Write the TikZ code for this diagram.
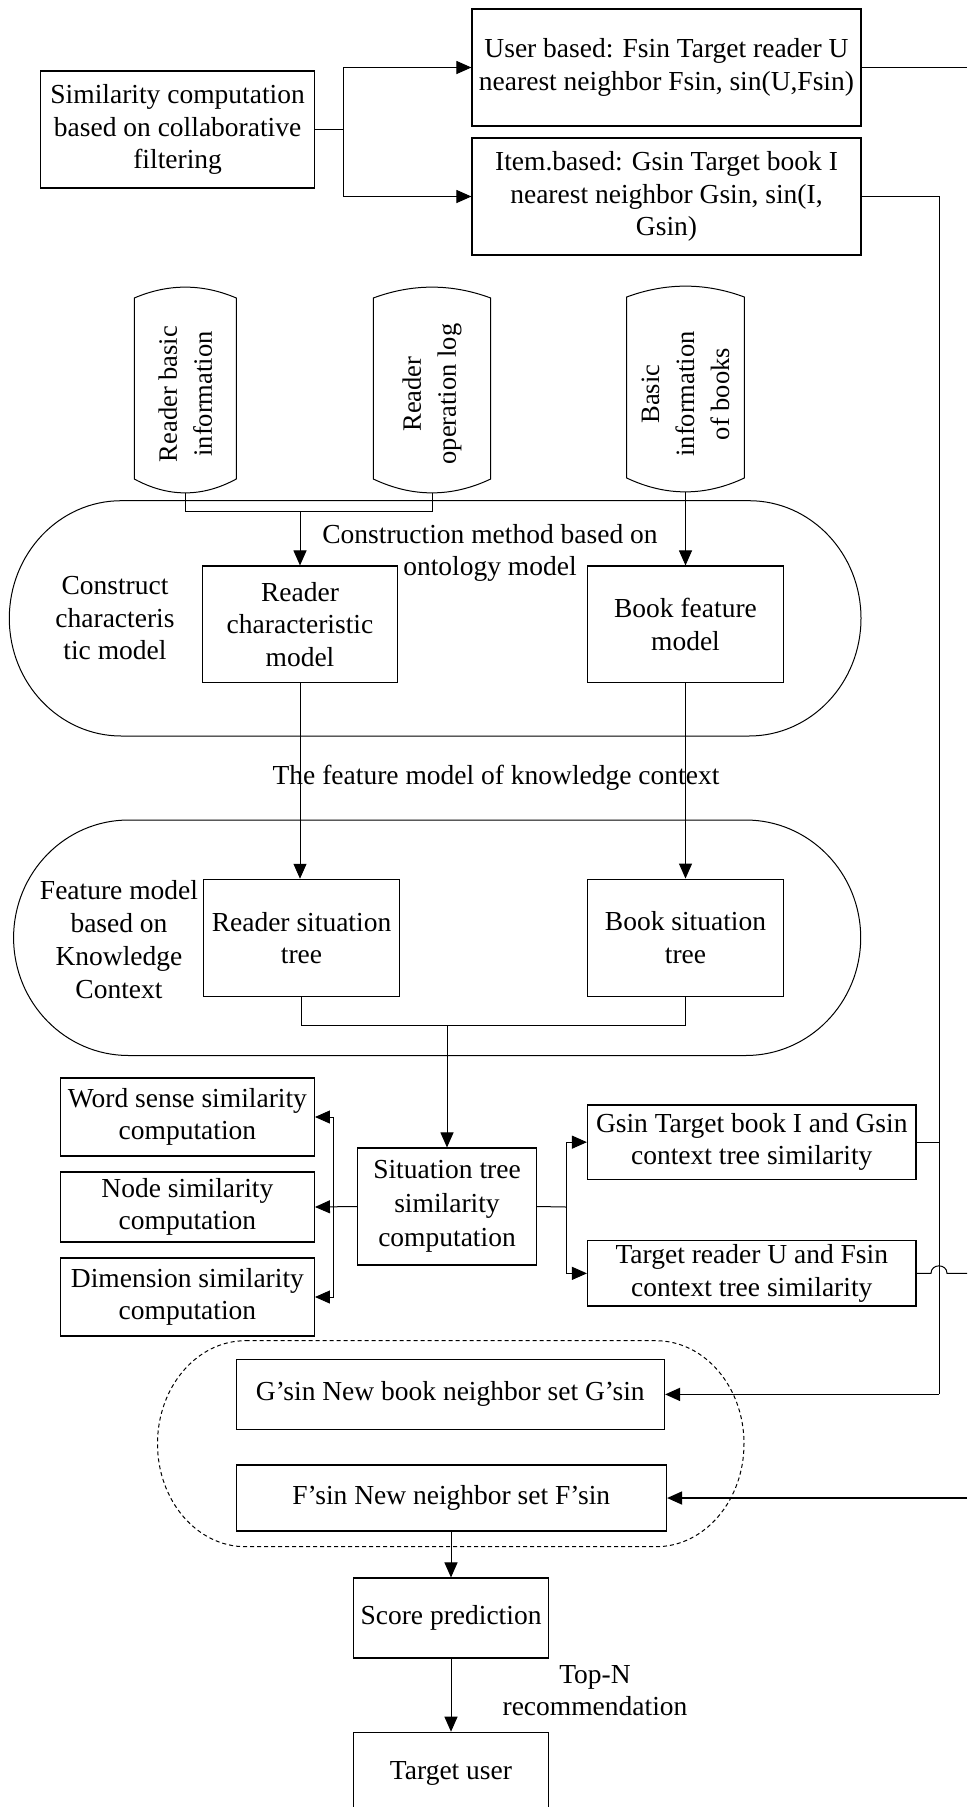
\documentclass[tikz,border=0pt]{standalone}
\usepackage{fontspec}
\setmainfont{Liberation Serif}
\usetikzlibrary{arrows.meta}
\newcommand\myfs{\fontsize{27.5pt}{32.5pt}\selectfont}
\newcommand\myfsc{\fontsize{26.5pt}{35pt}\selectfont}
\newcommand\mystad[6]{%
 \draw[#1] ({#2+#6},#4) -- ({#3-#6},#4)
  .. controls ({#3-#6+0.5523*#6},#4) and (#3,{(#4+#5)/2-0.5523*(#5-#4)/2}) .. (#3,{(#4+#5)/2})
  .. controls (#3,{(#4+#5)/2+0.5523*(#5-#4)/2}) and ({#3-#6+0.5523*#6},#5) .. ({#3-#6},#5)
  -- ({#2+#6},#5)
  .. controls ({#2+#6-0.5523*#6},#5) and (#2,{(#4+#5)/2+0.5523*(#5-#4)/2}) .. (#2,{(#4+#5)/2})
  .. controls (#2,{(#4+#5)/2-0.5523*(#5-#4)/2}) and ({#2+#6-0.5523*#6},#4) .. ({#2+#6},#4) -- cycle;}
\newcommand\mycyl[5]{%
 \draw[cylline] (#2,#4) .. controls ({#2+(#3-#2)/3},{#4-14.5}) and ({#3-(#3-#2)/3},{#4-14.5}) .. (#3,#4)
  -- (#3,#5) .. controls ({#3-(#3-#2)/3},{#5+18.5}) and ({#2+(#3-#2)/3},{#5+18.5}) .. (#2,#5) -- cycle;
 \coordinate (#1) at ({(#2+#3)/2},{#5+14});}
\tikzset{
 box/.style={draw, line width=1.1pt, inner sep=0pt, align=center, font=\myfs},
 lbl/.style={inner sep=0pt, align=center, font=\myfs},
 cyltxt/.style={inner sep=0pt, align=center, font=\myfsc, rotate=90},
 cylline/.style={line width=1pt},
 stline/.style={line width=1pt},
 conn/.style={line width=1pt},
 arr/.style={conn, -{Triangle[length=15pt,width=13pt]}},
 thickarr/.style={line width=1.7pt, -{Triangle[length=15pt,width=13pt]}},
}
\begin{document}
\begin{tikzpicture}[x=1pt,y=-1pt]
\path[fill=white, use as bounding box] (0,0) rectangle (967,1807);

% top section
\node[box, minimum width=273.8pt, minimum height=117pt] (sim) at (177.6,129.5)
  {Similarity computation\\based on collaborative\\filtering};
\node[box, minimum width=389pt, minimum height=117pt] (user) at (666.5,67.5)
  {User based: Fsin Target reader U\\nearest neighbor Fsin, sin(U,Fsin)};
\node[box, minimum width=389pt, minimum height=117pt] (item) at (666.5,196.5)
  {Item.based: Gsin Target book I\\nearest neighbor Gsin, sin(I,\\Gsin)};
\coordinate (j0) at (343,129.5);
\draw[conn] (sim.east) -- (j0);
\draw[arr] (j0) |- (user.west);
\draw[arr] (j0) |- (item.west);
\coordinate (e0) at (967,67.5);
\draw[conn] (user.east) -- (e0);

% cylinders
\mycyl{c1b}{134.3}{236.3}{298}{479}
\mycyl{c2b}{373.3}{490.7}{298}{479}
\mycyl{c3b}{626.7}{744.3}{297}{478}
\node[cyltxt] (c1) at (185.3,394) {Reader basic\\information};
\node[cyltxt] (c2) at (432,394) {Reader\\operation log};
\node[cyltxt] (c3) at (685.5,394) {Basic\\information\\of books};

% stadium 1
\mystad{stline}{9.3}{861}{500.7}{736}{112}
\node[lbl] (cons) at (115,618.5) {Construct\\characteris\\tic model};
\node[lbl] (onto) at (490,553) {Construction method based on\\ontology model};
\node[box, minimum width=195.3pt, minimum height=116.7pt] (rcm) at (300,624.35)
  {Reader\\characteristic\\model};
\node[box, minimum width=195.8pt, minimum height=116.7pt] (bfm) at (685.5,624.35)
  {Book feature\\model};
\coordinate (j1) at (300,511);
\draw[conn] (c1b) |- (j1);
\draw[conn] (c2b) |- (j1);
\draw[arr] (j1) -- (rcm.north);
\draw[arr] (c3b) -- (bfm.north);

\node[lbl] (fmk) at (496,778) {The feature model of knowledge context};

% stadium 2
\mystad{stline}{13.6}{860.7}{820}{1055.5}{115}
\node[lbl, font=\fontsize{27.5pt}{33pt}\selectfont] (fmb) at (119,939.5) {Feature model\\based on\\Knowledge\\Context};
\node[box, minimum width=196pt, minimum height=117.2pt] (rst) at (301.5,937.9)
  {Reader situation\\tree};
\node[box, minimum width=195.8pt, minimum height=117.2pt] (bst) at (685.5,937.7)
  {Book situation\\tree};
\draw[arr] (rcm.south) -- (rcm.south |- rst.north);
\draw[arr] (bfm.south) -- (bfm.south |- bst.north);

% situation tree similarity
\node[box, minimum width=178.8pt, minimum height=117pt, font=\fontsize{27.5pt}{34pt}\selectfont] (sit) at (447,1206.5)
  {Situation tree\\similarity\\computation};
\coordinate (j2) at (447,1025.5);
\draw[conn] (rst.south) |- (j2);
\draw[conn] (bst.south) |- (j2);
\draw[arr] (j2) -- (sit.north);

\node[box, minimum width=254pt, minimum height=78pt] (ws) at (187.4,1117)
  {Word sense similarity\\computation};
\node[box, minimum width=254pt, minimum height=70pt] (ns) at (187.4,1207)
  {Node similarity\\computation};
\node[box, minimum width=254pt, minimum height=78pt] (ds) at (187.4,1297)
  {Dimension similarity\\computation};
\coordinate (j3) at (333,1207);
\draw[arr] (sit.west) -- (ns.east);
\draw[arr] (j3) |- (ws.east);
\draw[arr] (j3) |- (ds.east);

\node[box, minimum width=328.5pt, minimum height=74.3pt] (gs) at (751.75,1142.15)
  {Gsin Target book I and Gsin\\context tree similarity};
\node[box, minimum width=328.5pt, minimum height=65.3pt] (tr) at (751.75,1273.35)
  {Target reader U and Fsin\\context tree similarity};
\coordinate (j4) at (566,1207);
\draw[conn] (sit.east) -- (j4);
\draw[arr] (j4) |- (gs.west);
\draw[arr] (j4) |- (tr.west);

% dashed group
\mystad{stline, dash pattern=on 4pt off 3pt}{157.5}{744}{1340.7}{1546.7}{88}
\node[box, minimum width=428.5pt, minimum height=70pt] (gp) at (450.3,1394.4)
  {G’sin New book neighbor set G’sin};
\node[box, minimum width=430.5pt, minimum height=66pt] (fp) at (451.3,1498)
  {F’sin New neighbor set F’sin};

% right rail
\coordinate (rail) at (939,1394.4);
\draw[conn] (item.east) -| (rail);
\draw[thickarr] (rail) -- (gp.east);
\draw[conn] (gs.east) -- (gs.east -| rail);
\coordinate (e1) at (967,1273.35);
\draw[conn] (tr.east) -- ([xshift=-8pt]tr.east -| rail)
  .. controls +(0,-10) and +(0,-10) .. ([xshift=8pt]tr.east -| rail) -- (e1);
\coordinate (e2) at (967,1498);
\draw[thickarr] (e2) -- (fp.east);

% bottom
\node[box, minimum width=195.5pt, minimum height=80pt] (score) at (451,1618)
  {Score prediction};
\node[box, minimum width=195.5pt, minimum height=81.5pt] (tgt) at (451,1773)
  {Target user};
\draw[arr] (fp.south -| score.north) -- (score.north);
\draw[arr] (score.south) -- (tgt.north);
\node[lbl] (topn) at (595,1690.5) {Top-N\\recommendation};
\end{tikzpicture}
\end{document}
